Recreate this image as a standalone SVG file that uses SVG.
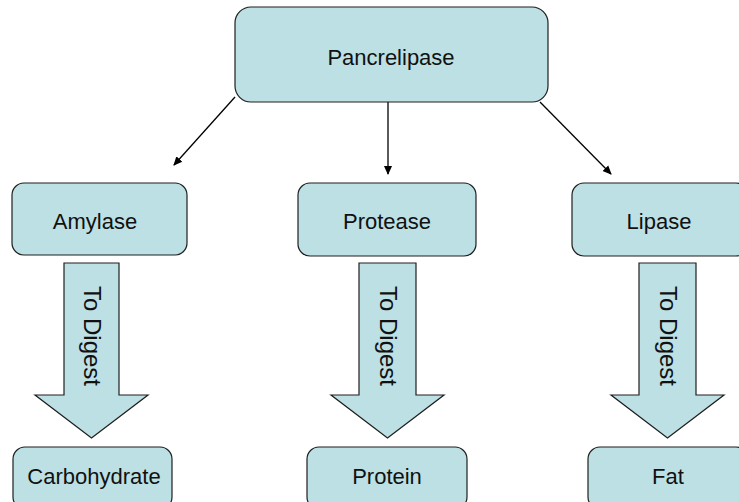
<svg xmlns="http://www.w3.org/2000/svg" width="739" height="502" viewBox="0 0 739 502">
<defs>
<style>
.box{fill:#bce0e3;stroke:#1e1e1e;stroke-width:1.2}
.blk{fill:#bce0e3;stroke:#1e1e1e;stroke-width:1.2;stroke-linejoin:miter}
.lbl{font-family:"Liberation Sans",Arial,sans-serif;font-size:22px;fill:#111;text-anchor:middle}
.dig{font-family:"Liberation Sans",Arial,sans-serif;font-size:24px;fill:#111;text-anchor:middle}
.con{stroke:#000;stroke-width:1.3;fill:none;marker-end:url(#ah)}
</style>
<marker id="ah" markerWidth="10" markerHeight="10" refX="8" refY="5" orient="auto" markerUnits="userSpaceOnUse">
<path d="M0,1 L9,5 L0,9 Z" fill="#000"/>
</marker>
</defs>
<rect width="739" height="502" fill="#fff"/>
<g id="connectors">
<line class="con" x1="235" y1="97" x2="174" y2="165"/>
<line class="con" x1="388" y1="102" x2="388" y2="174"/>
<line class="con" x1="540" y1="102" x2="611" y2="174"/>
</g>
<g id="pancrelipase">
<rect class="box" x="235" y="7" width="313" height="95" rx="16"/>
<text class="lbl" x="391" y="65">Pancrelipase</text>
</g>
<g id="amylase">
<rect class="box" x="12" y="183" width="175" height="72" rx="12"/>
<text class="lbl" x="95" y="229">Amylase</text>
</g>
<g id="protease">
<rect class="box" x="298" y="183" width="178" height="73" rx="12"/>
<text class="lbl" x="387" y="229">Protease</text>
</g>
<g id="lipase">
<rect class="box" x="572" y="183" width="176" height="73" rx="12"/>
<text class="lbl" x="659" y="229">Lipase</text>
</g>
<g id="arrow-amylase">
<path class="blk" d="M64,263 L119,263 L119,395 L148,395 L91.5,438 L35,395 L64,395 Z"/>
<text class="dig" transform="translate(91.5,336) rotate(90)" y="8">To Digest</text>
</g>
<g id="arrow-protease">
<path class="blk" d="M359,263 L416,263 L416,395 L444,395 L387.5,438 L331,395 L359,395 Z"/>
<text class="dig" transform="translate(387.5,336) rotate(90)" y="8">To Digest</text>
</g>
<g id="arrow-lipase">
<path class="blk" d="M639,263 L696,263 L696,395 L724,395 L667.5,438 L611,395 L639,395 Z"/>
<text class="dig" transform="translate(667.5,336) rotate(90)" y="8">To Digest</text>
</g>
<g id="carbohydrate">
<rect class="box" x="13" y="447" width="159" height="62" rx="12"/>
<text class="lbl" x="94" y="484">Carbohydrate</text>
</g>
<g id="protein">
<rect class="box" x="307" y="447" width="160" height="62" rx="12"/>
<text class="lbl" x="387" y="484">Protein</text>
</g>
<g id="fat">
<rect class="box" x="588" y="447" width="160" height="62" rx="12"/>
<text class="lbl" x="668" y="484">Fat</text>
</g>
</svg>
